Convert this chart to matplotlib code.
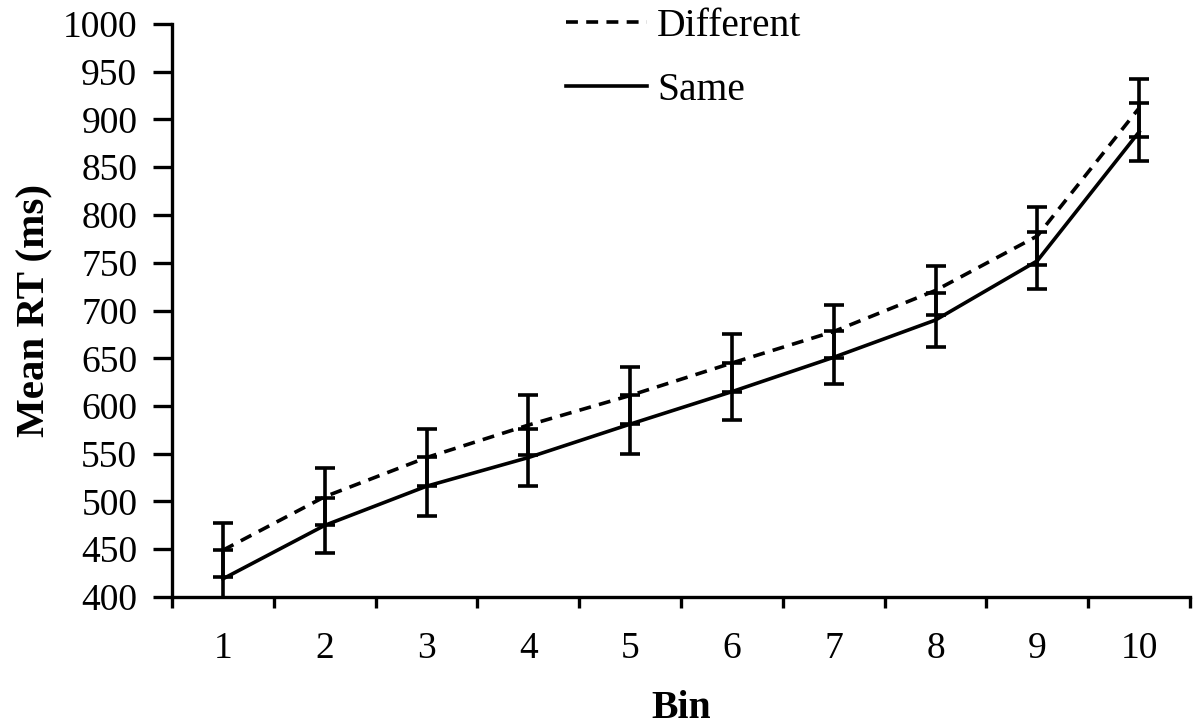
import matplotlib
matplotlib.use("Agg")
import matplotlib.pyplot as plt
from matplotlib.lines import Line2D
from matplotlib.ticker import FixedLocator, NullFormatter, FixedFormatter

plt.rcParams['font.family'] = ['Liberation Serif', 'DejaVu Serif']

bins = [1, 2, 3, 4, 5, 6, 7, 8, 9, 10]
bin_labels = ['1', '2', '3', '4', '5', '6', '7', '8', '9', '10']
different = [449, 505, 546, 580, 611, 645, 678, 721, 778, 912]
different_err = [28, 30, 30, 31, 30, 30, 28, 26, 30, 30]
same = [419, 475, 516, 546, 581, 615, 651, 690, 752, 887]
same_err = [30, 29, 31, 30, 31, 30, 28, 28, 30, 30]
yticks = [400, 450, 500, 550, 600, 650, 700, 750, 800, 850, 900, 950, 1000]

W, H = 1196, 725
fig = plt.figure(figsize=(W / 100, H / 100), dpi=100)
ax = fig.add_axes([172 / W, (H - 597) / H, (1190 - 172) / W, (597 - 24) / H])

lw = 2.6
dash = (0, (3.3, 2.3))
ax.errorbar(bins, different, yerr=different_err, color='black', lw=lw,
            linestyle=dash, elinewidth=lw, capsize=7, capthick=lw)
ax.errorbar(bins, same, yerr=same_err, color='black', lw=lw,
            linestyle='-', elinewidth=lw, capsize=7, capthick=lw)

ax.set_xlim(0.5, 10.5)
ax.set_ylim(400, 1000)
ax.set_yticks(yticks)
ax.set_yticklabels([str(v) for v in yticks])

ax.xaxis.set_major_locator(FixedLocator([b - 0.5 for b in bins] + [bins[-1] + 0.5]))
ax.xaxis.set_major_formatter(NullFormatter())
ax.xaxis.set_minor_locator(FixedLocator(bins))
ax.xaxis.set_minor_formatter(FixedFormatter(bin_labels))

for s in ['top', 'right']:
    ax.spines[s].set_visible(False)
for s in ['left', 'bottom']:
    ax.spines[s].set_linewidth(2.4)

ax.tick_params(axis='y', which='major', direction='out', length=14, width=2.4,
               labelsize=27, pad=11)
ax.tick_params(axis='x', which='major', direction='out', length=8, width=2.4)
ax.tick_params(axis='x', which='minor', length=0, labelsize=27, pad=25)

ax.set_xlabel('Bin', fontsize=28.5, fontweight='bold', labelpad=17)
ax.set_ylabel('Mean RT (ms)', fontsize=29.5, fontweight='bold', labelpad=7)

handles = [Line2D([], [], color='black', lw=lw, linestyle=dash),
           Line2D([], [], color='black', lw=lw, linestyle='-')]
leg = ax.legend(handles, ['Different', 'Same'], loc='upper left',
                bbox_to_anchor=(566 / W, 1 - 8 / H),
                bbox_transform=fig.transFigure, frameon=False, fontsize=28.5,
                handlelength=2.05, handletextpad=0.25, labelspacing=0.68,
                borderpad=0, borderaxespad=0)

fig.savefig('out.png', dpi=100)
